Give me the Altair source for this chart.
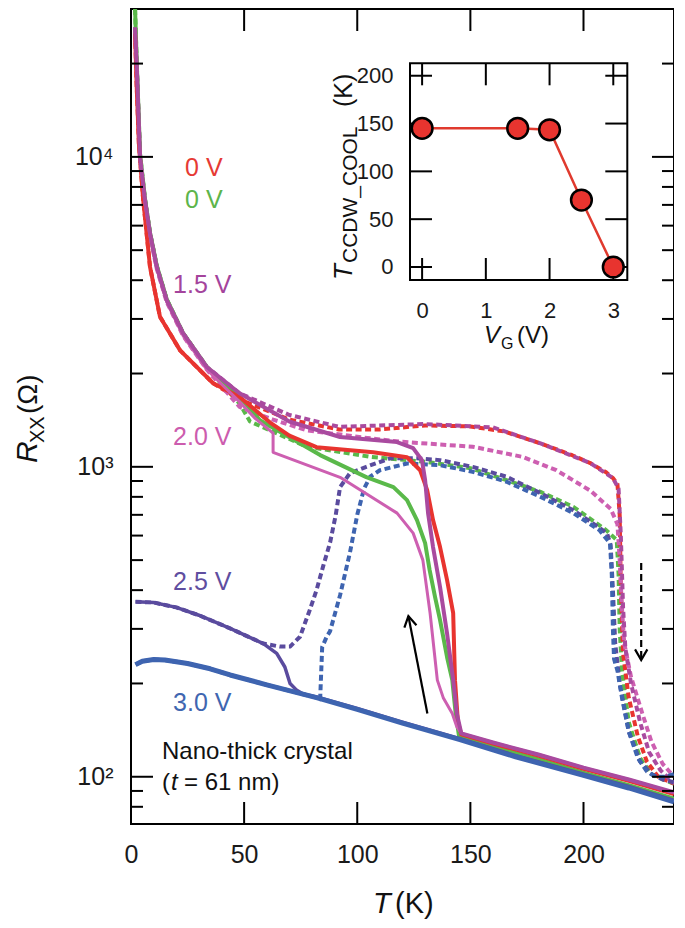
import altair as alt
import pandas as pd

W, H = 543, 815
FONT = "Liberation Sans"

# ---------------- main panel data (T in K, Rxx in Ohm) ----------------
red_cool_T = [1.8, 2.5, 3.5, 5.4, 8.4, 12.8, 21.7, 36.3, 48, 62, 70, 82, 107, 122, 127.8, 130.9, 133.5, 136.6, 139.7, 142.4, 143.2, 144.5, 146, 160, 180, 200, 220, 240]
red_cool_R = [25000, 17000, 11000, 7250, 4420, 3050, 2375, 1860, 1680, 1380, 1260, 1157, 1114, 1074, 975, 841, 673, 551, 431, 337, 205, 150, 137, 128, 117, 106, 97, 88]

green_cool_T = [1.8, 2.5, 4, 6.2, 8.4, 11.4, 15.8, 23, 33.5, 48, 57, 83.6, 104, 116, 122, 126.4, 130, 132, 134.4, 136.6, 139.7, 142, 143.5, 145, 160, 180, 200, 220, 240]
green_cool_R = [30000, 20500, 10200, 7300, 5700, 4450, 3470, 2700, 2100, 1680, 1413, 1091, 926, 860, 781, 673, 567, 464, 380, 320, 243, 205, 160, 135, 125, 114, 103, 94, 85]

mag_cool_T = [1.8, 2.5, 4, 6.2, 8.4, 11.4, 15.8, 23, 33.5, 48, 70, 92.4, 117.6, 124.7, 128.6, 130, 131.3, 133.5, 136.6, 139.7, 142.4, 144, 146, 160, 180, 200, 220, 240]
mag_cool_R = [26200, 20000, 10000, 7250, 5670, 4420, 3450, 2700, 2100, 1727, 1400, 1248, 1202, 1149, 1051, 906, 709, 551, 409, 290, 205, 160, 138, 129, 118, 107, 98, 89]

pink_cool_T = [1.8, 2.5, 4, 6.2, 8.4, 11.4, 15.8, 23, 33.5, 48, 55, 62.8, 62.8, 92.4, 117.6, 124.7, 129, 132.2, 135.4, 138, 142, 144, 146, 160, 180, 200, 220, 240]
pink_cool_R = [25500, 19500, 9800, 7100, 5550, 4350, 3400, 2650, 2060, 1620, 1430, 1285, 1114, 925, 709, 611, 500, 337, 205, 180, 160, 145, 138, 129, 118, 107, 98, 89]

purple_cool_T = [2, 10, 20, 30, 43.8, 58.5, 64.4, 68, 70.3, 73.3, 76, 82, 100, 120, 145, 170, 200, 220, 240]
purple_cool_R = [367, 365, 352, 332, 301, 269, 250, 226, 200, 190, 185, 181, 166, 150, 133, 117, 102, 93, 84]

blue_cool_T = [2, 5, 10, 15, 25, 35, 43.8, 60, 82, 100, 120, 145, 170, 200, 220, 240]
blue_cool_R = [230, 236, 239, 238, 232, 223, 213, 198, 180, 165, 149, 132, 116, 101, 92, 83]

red_warm_T = [1.8, 2.5, 3.5, 5.4, 8.4, 12.8, 21.7, 36.3, 48, 70, 92, 110, 130, 150, 165, 181, 195, 203, 210, 213, 215, 216, 216.5, 217.5, 220, 224, 228, 233, 240]
red_warm_R = [25000, 17000, 11000, 7250, 4420, 3050, 2375, 1860, 1650, 1420, 1320, 1320, 1360, 1350, 1300, 1190, 1090, 1028, 960, 920, 880, 700, 400, 250, 180, 135, 112, 100, 95]

mag_warm_T = [1.8, 2.5, 4, 6.2, 8.4, 11.4, 15.8, 23, 33.5, 48, 70, 92, 130, 160, 181, 203, 213, 215.5, 216.5, 217.5, 218.5, 221, 225, 229, 234, 240]
mag_warm_R = [26200, 20000, 10000, 7250, 5670, 4420, 3450, 2700, 2100, 1727, 1470, 1346, 1374, 1340, 1190, 1028, 920, 850, 600, 350, 260, 200, 150, 120, 105, 95]

pink_warm_T = [1.8, 2.5, 4, 6.2, 8.4, 11.4, 15.8, 23, 33.5, 48, 62.8, 77.7, 100, 119, 151, 173, 188, 203, 212, 215, 216, 217, 218, 221, 226, 230, 235, 240]
pink_warm_R = [25500, 19500, 9800, 7100, 5550, 4350, 3400, 2650, 2060, 1560, 1420, 1312, 1250, 1205, 1161, 1077, 975, 838, 732, 653, 500, 350, 270, 210, 160, 130, 110, 100]

green_warm_T = [1.8, 2.5, 4, 6.2, 8.4, 11.4, 15.8, 23, 33.5, 40, 48, 52.6, 77.7, 105.6, 130.7, 150, 166, 181, 195.5, 210, 214.7, 215.5, 216, 217, 220, 225, 230, 235, 240]
green_warm_R = [30000, 20500, 10200, 7300, 5700, 4450, 3470, 2700, 2100, 1850, 1600, 1400, 1161, 1077, 1037, 990, 906, 830, 743, 625, 580, 450, 300, 220, 150, 115, 102, 98, 95]

purple_warm_T = [2, 10, 20, 30, 43.8, 58.5, 65.9, 70.3, 74.7, 79, 82, 85, 88, 90.5, 92.4, 96.8, 104, 114.5, 126.3, 136.6, 151, 166, 181, 195.5, 204, 210.4, 212, 213, 214, 216, 220, 225, 230, 235, 240]
purple_warm_R = [367, 365, 352, 332, 301, 269, 263, 263, 283, 345, 400, 480, 570, 700, 860, 954, 1000, 1065, 1065, 1051, 1000, 929, 822, 724, 658, 611, 560, 400, 270, 200, 140, 112, 102, 98, 96]

blue_warm_T = [2, 5, 10, 15, 25, 35, 43.8, 60, 82, 83.6, 84.5, 86.5, 88, 92.4, 96.8, 100, 103, 105.7, 110, 122, 136.6, 151, 166, 181, 195.5, 207, 211.7, 212.5, 213, 213.5, 215, 217, 220, 224, 228, 232, 236, 240]
blue_warm_R = [230, 236, 239, 238, 232, 223, 213, 198, 180, 178, 262, 283, 295, 385, 530, 700, 850, 929, 975, 1025, 1012, 964, 895, 800, 709, 625, 567, 450, 300, 240, 220, 180, 140, 115, 104, 100, 100, 102]

# annotation labels (text, T, R, colour)
label_text = ["0 V", "0 V", "1.5 V", "2.0 V", "2.5 V", "3.0 V"]
label_T = [23.9, 23.9, 18.6, 18.6, 18.6, 18.6]
label_R = [9200, 7250, 3855, 1247, 425, 173]
label_color = ["#e63a34", "#5db54b", "#a4449c", "#cc5cae", "#5f4ea0", "#4066b0"]

# arrows
arrow_solid_T = [131.0, 122.6]
arrow_solid_R = [160, 330]
arrow_dash_T = [225.5, 225.5]
arrow_dash_R = [489, 238]

# axis ticks
x_major = [0, 50, 100, 150, 200]
x_inner_ticks = [50, 100, 150, 200]
y_major = [100, 1000, 10000]
y_minor = [80, 90, 200, 300, 400, 500, 600, 700, 800, 900,
           2000, 3000, 4000, 5000, 6000, 7000, 8000, 9000, 20000]

# ---------------- inset data ----------------
inset_VG = [0, 1.5, 2.0, 2.5, 3.0]
inset_Tc = [145, 145, 143.5, 70, 0]
inset_x_ticks = [0, 1, 2, 3]
inset_y_ticks = [0, 50, 100, 150, 200]

# ---------------- scales / axes ----------------
xs = alt.Scale(domain=[0, 240], nice=False, zero=False)
ys = alt.Scale(type="log", domain=[70.4, 30000], nice=False)
x_axis = alt.Axis(values=x_major, ticks=False, domain=False, grid=False, labelFontSize=25,
                  labelPadding=18, labelFlush=False, title=None, labelColor="#1a1a1a", labelFont=FONT)
y_axis = alt.Axis(values=y_major, ticks=False, domain=False, grid=False, labelFontSize=25,
                  labelPadding=18, title=None, labelColor="#1a1a1a", labelFont=FONT,
                  labelExpr="datum.value == 100 ? '10\u00b2' : datum.value == 1000 ? '10\u00b3' : '10\u2074'")


def X(f):
    return alt.X(f, type="quantitative", scale=xs, axis=x_axis)


def Y(f):
    return alt.Y(f, type="quantitative", scale=ys, axis=y_axis)


def curve(T, R, color, width, dash=None):
    df = pd.DataFrame({"T": T, "R": R, "i": list(range(len(T)))})
    kw = dict(color=color, strokeWidth=width, clip=True, strokeJoin="round")
    if dash:
        kw["strokeDash"] = dash
    return alt.Chart(df).mark_line(**kw).encode(x=X("T"), y=Y("R"), order=alt.Order("i:Q"))


RED, GREEN, MAG, PINK, PURPLE, BLUE = "#e8342f", "#5ab94a", "#a94a9f", "#cd5fb1", "#5a4b9e", "#3e64b0"
D = [6, 3.5]

layers = [
    curve(green_warm_T, green_warm_R, GREEN, 4, D),
    curve(red_warm_T, red_warm_R, RED, 4, D),
    curve(pink_warm_T, pink_warm_R, PINK, 4, D),
    curve(mag_warm_T, mag_warm_R, MAG, 4, D),
    curve(purple_warm_T, purple_warm_R, PURPLE, 4, D),
    curve(blue_warm_T, blue_warm_R, BLUE, 4, D),
    curve(green_cool_T, green_cool_R, GREEN, 4),
    curve(red_cool_T, red_cool_R, RED, 4),
    curve(pink_cool_T, pink_cool_R, PINK, 3),
    curve(mag_cool_T, mag_cool_R, MAG, 4),
    curve(purple_cool_T, purple_cool_R, PURPLE, 3.5),
    curve(blue_cool_T, blue_cool_R, BLUE, 5),
]

# ticks (inward) on four sides
def yticks(vals, x0, x1):
    return alt.Chart(pd.DataFrame({"v": vals})).mark_rule(color="black", strokeWidth=2).encode(
        y=Y("v"), x=alt.value(x0), x2=alt.value(x1))


def xticks(vals, y0, y1):
    return alt.Chart(pd.DataFrame({"v": vals})).mark_rule(color="black", strokeWidth=2).encode(
        x=X("v"), y=alt.value(y0), y2=alt.value(y1))


layers += [
    yticks(y_major, 0, 22), yticks(y_minor, 0, 12),
    yticks(y_major, W, W - 22), yticks(y_minor, W, W - 12),
    xticks(x_inner_ticks, H, H - 22), xticks(x_inner_ticks, 0, 22),
]

# voltage labels
lab_df = pd.DataFrame({"T": label_T, "R": label_R, "t": label_text, "c": label_color})
layers.append(alt.Chart(lab_df).mark_text(align="left", baseline="middle", fontSize=25, font=FONT).encode(
    x=X("T"), y=Y("R"), text="t:N", color=alt.Color("c:N", scale=None)))

# sample description
desc_df = pd.DataFrame({"T": [13.7], "R": [120.0], "t": ["Nano-thick crystal"]})
layers.append(alt.Chart(desc_df).mark_text(align="left", baseline="middle", fontSize=24, font=FONT,
                                           color="#111").encode(x=X("T"), y=Y("R"), text="t:N"))
for txt, dx, ital in [("(", 0, False), ("t", 9, True), ("= 61 nm)", 22, False)]:
    d = pd.DataFrame({"T": [13.7], "R": [95.4], "t": [txt]})
    layers.append(alt.Chart(d).mark_text(align="left", baseline="middle", fontSize=24, font=FONT, dx=dx,
                                         fontStyle="italic" if ital else "normal", color="#111").encode(
        x=X("T"), y=Y("R"), text="t:N"))

# arrows
ARROW = "M -0.55 0.95 L 0 0 L 0.55 0.95"
a1 = pd.DataFrame({"T": arrow_solid_T, "R": arrow_solid_R})
layers.append(alt.Chart(a1).mark_line(color="black", strokeWidth=2.2).encode(x=X("T"), y=Y("R")))
layers.append(alt.Chart(a1.iloc[[1]]).mark_point(shape=ARROW, filled=False, color="black", strokeWidth=2.2,
                                                  size=500, angle=349, opacity=1).encode(x=X("T"), y=Y("R")))
a2 = pd.DataFrame({"T": arrow_dash_T, "R": arrow_dash_R})
layers.append(alt.Chart(a2).mark_line(color="black", strokeWidth=2.2, strokeDash=[7, 4]).encode(x=X("T"), y=Y("R")))
layers.append(alt.Chart(a2.iloc[[1]]).mark_point(shape=ARROW, filled=False, color="black", strokeWidth=2.2,
                                                  size=500, angle=180, opacity=1).encode(x=X("T"), y=Y("R")))


# axis titles (pieces for italic / subscripts)
def ptext(txt, x, y, size, italic=False, angle=0):
    kw = dict(align="left", baseline="alphabetic", fontSize=size, font=FONT, color="#111",
              fontStyle="italic" if italic else "normal")
    if angle:
        kw["angle"] = angle
    return alt.Chart(pd.DataFrame({"t": [txt]})).mark_text(**kw).encode(
        x=alt.value(x), y=alt.value(y), text="t:N")


layers += [
    ptext("T", 242, 904, 29, True), ptext("(K)", 264, 904, 29),
    ptext("R", -94, 454, 30, True, 270), ptext("XX", -87, 434, 20, False, 270),
    ptext("(\u03a9)", -94, 405, 28, False, 270),
]

main = alt.layer(*layers)

# ---------------- inset ----------------
ixs = alt.Scale(domain=[-0.19, 3.22], range=[279, 496.3], nice=False, zero=False)
iys = alt.Scale(domain=[-13.6, 213], range=[271, 54.3], nice=False, zero=False)
ix_axis = alt.Axis(orient="bottom", offset=-(H - 271), values=inset_x_ticks, ticks=False, domain=False,
                   grid=False, labelFontSize=22, labelPadding=20, labelFlush=False, title=None,
                   labelColor="#1a1a1a", labelFont=FONT)
iy_axis = alt.Axis(orient="left", offset=-279, values=inset_y_ticks, ticks=False, domain=False, grid=False,
                   labelFontSize=22, labelPadding=17, title=None, labelColor="#1a1a1a", labelFont=FONT)


def IX(f):
    return alt.X(f, type="quantitative", scale=ixs, axis=ix_axis)


def IY(f):
    return alt.Y(f, type="quantitative", scale=iys, axis=iy_axis)


frame_df = pd.DataFrame({"x0": [-0.19], "x1": [3.22], "y0": [-13.6], "y1": [213]})
ins = pd.DataFrame({"V": inset_VG, "Tc": inset_Tc})
inset_layers = [
    alt.Chart(frame_df).mark_rect(fillOpacity=0, stroke="black", strokeWidth=2).encode(
        x=IX("x0"), x2="x1", y=IY("y0"), y2="y1"),
    alt.Chart(pd.DataFrame({"v": inset_y_ticks})).mark_rule(color="black", strokeWidth=2).encode(
        y=IY("v"), x=alt.value(279), x2=alt.value(301)),
    alt.Chart(pd.DataFrame({"v": inset_y_ticks})).mark_rule(color="black", strokeWidth=2).encode(
        y=IY("v"), x=alt.value(496.3), x2=alt.value(474.3)),
    alt.Chart(pd.DataFrame({"v": inset_x_ticks})).mark_rule(color="black", strokeWidth=2).encode(
        x=IX("v"), y=alt.value(271), y2=alt.value(249)),
    alt.Chart(pd.DataFrame({"v": inset_x_ticks})).mark_rule(color="black", strokeWidth=2).encode(
        x=IX("v"), y=alt.value(54.3), y2=alt.value(76.3)),
    alt.Chart(ins).mark_line(color="#e03a2e", strokeWidth=2.5).encode(x=IX("V"), y=IY("Tc")),
    alt.Chart(ins).mark_point(filled=True, color="#e8342f", stroke="black", strokeWidth=2.5, size=430,
                              opacity=1, shape="circle").encode(x=IX("V"), y=IY("Tc")),
    ptext("T", 221, 271, 26, True, 270), ptext("CCDW_COOL", 226, 254, 21, False, 270),
    ptext("(K)", 221, 98, 25, False, 270),
    ptext("V", 353, 334, 24, True), ptext("G", 370, 340, 16), ptext("(V)", 386, 334, 24),
]
inset = alt.layer(*inset_layers)

chart = alt.layer(main, inset).resolve_scale(x="independent", y="independent").properties(
    width=W, height=H, autosize=alt.AutoSizeParams(type="none"),
    padding={"left": 123, "top": 1, "right": 0, "bottom": 100},
).configure_view(stroke="black", strokeWidth=2)

chart.save("out.html", embed_options={"renderer": "svg", "actions": False})
